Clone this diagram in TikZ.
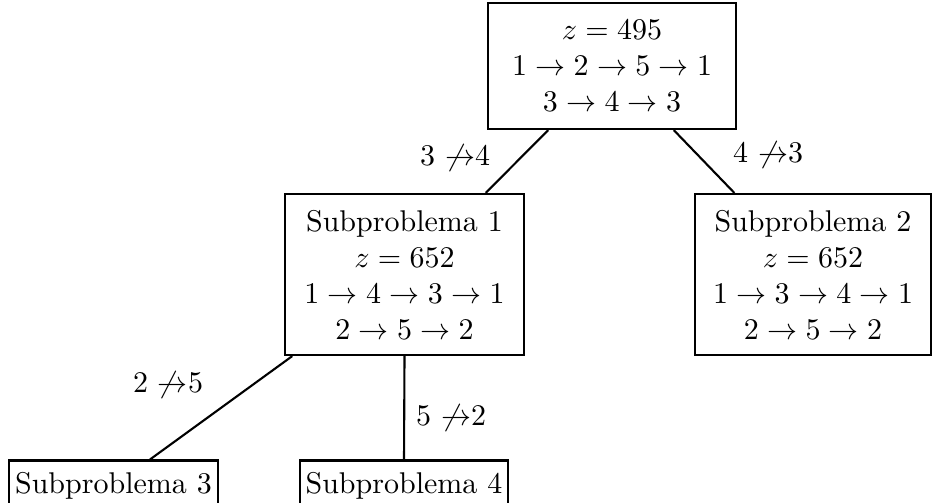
\documentclass[tikz,border=0pt]{standalone}
\begin{document}
\begin{tikzpicture}[x=0.3333pt,y=-0.3333pt,
  box/.style={draw, line width=0.7pt, align=center, inner sep=0pt},
  edge/.style={line width=0.7pt},
  lbl/.style={inner sep=0pt}]
\useasboundingbox (0,0) rectangle (932,502);
\clip (0,0) rectangle (932,502);
\node[box, minimum width=82.7pt, minimum height=42pt] (root) at (612,66)
  {$z=495$\\$1\to2\to5\to1$\\$3\to4\to3$};
\node[box, minimum width=79.7pt, minimum height=53.7pt] (s1) at (404.5,274.5)
  {Subproblema 1\\$z=652$\\$1\to4\to3\to1$\\$2\to5\to2$};
\node[box, minimum width=78.7pt, minimum height=53.7pt] (s2) at (813,274.5)
  {Subproblema 2\\$z=652$\\$1\to3\to4\to1$\\$2\to5\to2$};
\node[box, minimum width=69.7pt, minimum height=17pt] (s3) at (113.5,486)
  {Subproblema 3};
\node[box, minimum width=69.3pt, minimum height=17pt] (s4) at (404,486)
  {Subproblema 4};
\draw[edge] (root) -- (s1);
\draw[edge] (root) -- (s2);
\draw[edge] (s1) -- (s3);
\draw[edge] (s1.south) -- (s4.north);
\node[lbl] (l1) at (455,158) {3 $\not\to$4};
\node[lbl] (l2) at (768,155) {4 $\not\to$3};
\node[lbl] (l3) at (168,385) {2 $\not\to$5};
\node[lbl] (l4) at (451,418) {5 $\not\to$2};
\end{tikzpicture}
\end{document}
